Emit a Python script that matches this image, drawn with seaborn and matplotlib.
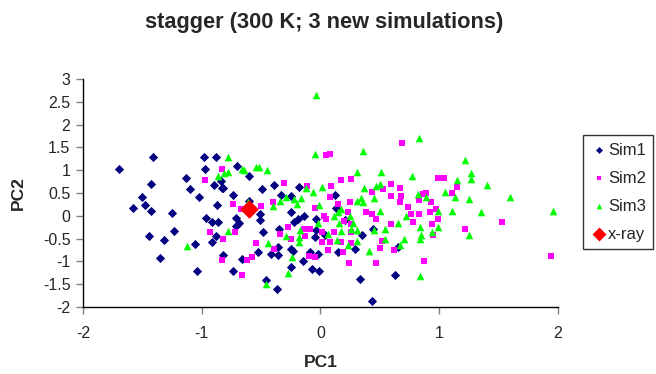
import matplotlib
matplotlib.use("Agg")
import matplotlib.pyplot as plt
import seaborn as sns
import pandas as pd

sim1_x = [-1.70, -1.41, -0.98, -0.88, -0.97, -0.70, -0.60, -1.13, -1.43, -1.10, -0.90, -0.84, -0.83, -0.82,
          -1.50, -1.02, -0.74, -1.58, -1.48, -1.43, -1.25, -0.87, -0.96, -0.91, -0.86, -0.71, -0.69, -0.71,
          -1.23, -1.44, -1.32, -0.88, -0.91, -1.06, -0.82, -1.35, -0.66, -1.04, -0.74,
          -0.39, -0.18, -0.49, -0.33, -0.25, 0.12, -0.60, -0.51, -0.51, -0.25, -0.19, -0.22, -0.14, -0.04,
          0.13, 0.21, -0.48, -0.35, -0.04, 0.04, -0.05, 0.35, 0.44, -0.36, -0.25, -0.23, -0.09, -0.02,
          0.15, 0.29, -0.53, -0.42, -0.36, -0.15, -0.25, -0.07, -0.01, 0.63, 0.33, -0.46, -0.37, 0.43, 0.65]
sim1_y = [1.03, 1.28, 1.28, 1.30, 1.03, 1.09, 0.88, 0.82, 0.69, 0.58, 0.67, 0.76, 0.61, 0.61,
          0.42, 0.42, 0.46, 0.18, 0.24, 0.11, 0.06, 0.24, -0.04, -0.13, -0.13, -0.04, -0.16, -0.23,
          -0.34, -0.44, -0.52, -0.44, -0.58, -0.62, -0.85, -0.92, -0.95, -1.20, -1.20,
          0.67, 0.64, 0.59, 0.46, 0.43, 0.46, 0.33, 0.04, -0.09, 0.08, -0.07, -0.14, -0.01, -0.07,
          0.17, -0.09, -0.35, -0.28, -0.31, -0.41, -0.47, -0.41, -0.28, -0.68, -0.72, -0.77, -0.80, -0.84,
          -0.80, -0.72, -0.80, -0.84, -0.86, -0.99, -1.13, -1.17, -1.21, -1.30, -1.38, -1.41, -1.60, -1.87, -0.69]

sim2_x = [-0.83, -0.97, -0.74, -0.67, -0.93, -0.72, -0.82, -0.83, -0.62, -0.66, 0.69, 0.05, 0.08, -0.31,
          0.09, 0.17, 0.26, 0.59, 0.67, -0.11, 0.53, -0.40, -0.50, -0.05, 0.08, 0.15, 0.25, 0.23, 0.03,
          0.05, 0.20, 0.26, 0.38, 0.43, 0.47, 0.59, 0.74, 0.67, 0.68, 0.43, 0.59, -0.34, -0.27, -0.14,
          -0.09, -0.13, 0.01, 0.11, 0.26, -0.25, 0.01, 0.08, 0.17, 0.26, -0.54, -0.39, 0.06, 0.19, 0.50,
          0.62, -0.10, -0.05, -0.58, 0.24, 0.47, 0.52, 0.99, 1.04, 1.15, 0.86, 0.89, 1.11, 0.83, 0.93,
          0.76, 0.83, 0.92, 0.97, 0.99, 0.78, 0.94, 0.95, 1.22, 1.53, 1.94, 0.87]
sim2_y = [1.02, 0.78, 0.26, 0.14, -0.35, -0.35, -0.51, -0.96, -0.96, -1.30, 1.60, 1.33, 1.35, 0.71,
          0.65, 0.78, 0.80, 0.69, 0.60, 0.65, 0.58, 0.31, 0.22, 0.17, 0.41, 0.25, 0.31, 0.09, 0.00,
          -0.06, -0.11, -0.18, 0.08, 0.04, -0.08, -0.18, 0.19, 0.31, 0.44, 0.52, 0.44, -0.40, -0.24, -0.29,
          -0.29, -0.44, -0.36, -0.35, -0.36, -0.51, -0.57, -0.58, -0.57, -0.60, -0.60, -0.72, -0.75, -0.79, -0.70,
          -0.75, -0.88, -0.91, -0.91, -1.04, -1.04, -0.55, 0.83, 0.83, 0.63, 0.48, 0.50, 0.50, 0.35, 0.31,
          0.04, 0.04, 0.08, 0.15, -0.06, -0.14, -0.18, -0.42, -0.29, -0.14, -0.88, -1.00]

sim3_x = [-0.78, -0.66, -0.86, -0.81, -0.78, -0.78, -1.12, -0.61, -0.04, -0.05, 0.36, -0.54, -0.52, -0.45,
          -0.64, 0.31, 0.51, 0.77, -0.12, 0.01, 0.37, 0.47, 0.50, -0.06, -0.29, -0.34, -0.40, -0.22, -0.16,
          -0.20, -0.01, 0.34, 0.31, 0.45, 0.36, 0.17, 0.15, 0.11, 0.25, 0.50, 0.72, -0.02, 0.16, 0.27, 0.65,
          -0.17, 0.06, 0.17, 0.26, 0.31, 0.45, 0.54, -0.29, -0.18, -0.18, 0.31, 0.14, 0.23, 0.54, 0.70, 0.67,
          -0.44, 0.41, -0.24, -0.27, -0.46, 0.83, 1.22, 1.27, 1.27, 1.15, 1.40, 0.82, 0.89, 1.05, 1.13, 1.25,
          1.60, 0.99, 1.11, 1.35, 1.96, 0.84, 0.99, 0.94, 0.85, 0.84, 1.25, 0.84]
sim3_y = [1.30, 1.03, 0.87, 0.94, 0.97, -0.34, -0.66, 0.30, 2.65, 1.36, 1.42, 1.06, 1.06, 1.00,
          1.00, 0.97, 0.97, 0.87, 0.61, 0.63, 0.61, 0.65, 0.69, 0.52, 0.42, 0.33, 0.22, 0.37, 0.39,
          0.26, 0.24, 0.39, 0.33, 0.39, 0.30, 0.14, 0.08, 0.00, -0.01, 0.11, -0.01, -0.16, -0.16, -0.16, -0.16,
          -0.30, -0.40, -0.33, -0.29, -0.30, -0.30, -0.29, -0.45, -0.47, -0.57, -0.55, -0.52, -0.64, -0.50, -0.50, -0.64,
          -0.60, -0.77, -0.91, -1.26, -1.50, 1.71, 1.22, 0.94, 0.81, 0.79, 0.67, 0.48, 0.41, 0.52, 0.41, 0.36,
          0.41, 0.11, 0.11, 0.08, 0.11, -0.25, -0.25, -0.35, -0.42, -0.50, -0.42, -1.33]

xray_x = [-0.60]
xray_y = [0.15]

x_ticks = [-2, -1, 0, 1, 2]
y_ticks = [-2, -1.5, -1, -0.5, 0, 0.5, 1, 1.5, 2, 2.5, 3]
y_tick_labels = ["-2", "-1.5", "-1", "-0.5", "0", "0.5", "1", "1.5", "2", "2.5", "3"]

sns.set_style("white")
plt.rcParams['font.family'] = ['Liberation Sans', 'DejaVu Sans']

fig = plt.figure(figsize=(6.56, 3.74), dpi=100)
ax = fig.add_axes([0.1265, 0.179, 0.8506 - 0.1265, 0.7888 - 0.179])

series = [
    ("Sim1", sim1_x, sim1_y, "D", "#000080", 22),
    ("Sim2", sim2_x, sim2_y, "s", "#FF00FF", 20),
    ("Sim3", sim3_x, sim3_y, "^", "#00FF00", 30),
    ("x-ray", xray_x, xray_y, "D", "#FF0000", 90),
]
for i, (name, xs, ys, m, c, s) in enumerate(series):
    df = pd.DataFrame({"PC1": xs, "PC2": ys})
    sns.scatterplot(data=df, x="PC1", y="PC2", ax=ax, marker=m, color=c, s=s,
                    linewidth=0, edgecolor=c, label=name, zorder=3 + i)

ax.set_xlim(-2, 2)
ax.set_ylim(-2, 3)
ax.set_xticks(x_ticks)
ax.set_xticklabels([str(t) for t in x_ticks])
ax.set_yticks(y_ticks)
ax.set_yticklabels(y_tick_labels)
for sp in ["top", "right"]:
    ax.spines[sp].set_visible(False)
for sp in ["left", "bottom"]:
    ax.spines[sp].set_color("black")
    ax.spines[sp].set_linewidth(1.0)
ax.tick_params(axis="y", direction="out", length=5, width=1, color="#808080",
               labelsize=11.5, pad=4, left=True)
ax.tick_params(axis="x", direction="out", length=5, width=1, color="#808080",
               labelsize=11.5, pad=9, bottom=True)
ax.set_xlabel("PC1", fontsize=12.5, fontweight="bold", labelpad=10)
ax.set_ylabel("PC2", fontsize=12.5, fontweight="bold", labelpad=12)
ax.grid(False)

fig.suptitle("stagger (300 K; 3 new simulations)", fontsize=15.7, fontweight="bold",
             x=0.494, y=0.968)

leg = ax.legend(loc="upper left", bbox_to_anchor=(0.8887, 0.639), bbox_transform=fig.transFigure,
                borderaxespad=0, fancybox=False, frameon=True, fontsize=12,
                labelspacing=0.78, handletextpad=0.05, handlelength=1.0, borderpad=0.45,
                markerscale=0.75)
leg.get_frame().set_edgecolor("black")
leg.get_frame().set_linewidth(1.0)

fig.savefig("out.png", dpi=100)
